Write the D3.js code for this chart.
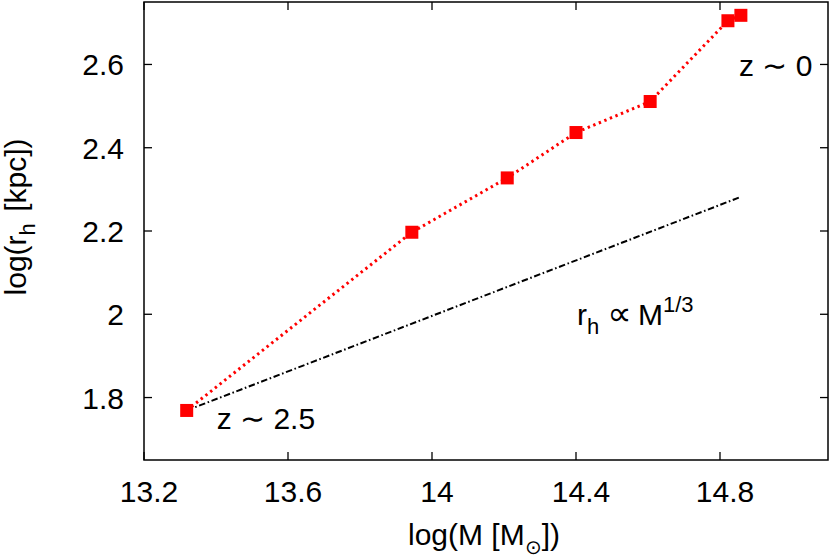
<!DOCTYPE html>
<html><head><meta charset="utf-8">
<script src="https://cdn.jsdelivr.net/npm/d3@7"></script>
<style>body{margin:0;background:#fff}svg{display:block}text{font-family:"Liberation Sans",Arial,Helvetica,sans-serif;fill:#000}</style>
</head><body><svg id="c" width="830" height="558"></svg>
<script>
// Data
const logM  = [13.3186, 13.944, 14.209, 14.400, 14.606, 14.822, 14.858];
const logRh = [1.769,   2.197,  2.3275, 2.4365, 2.511,  2.705,  2.718];
const scalingM  = [13.3186, 14.858];
const scalingRh = [1.769, 2.282];
const xTicks = [13.2, 13.6, 14.0, 14.4, 14.8];
const xTickLabels = ["13.2", "13.6", "14", "14.4", "14.8"];
const yTicks = [1.8, 2.0, 2.2, 2.4, 2.6];
const yTickLabels = ["1.8", "2", "2.2", "2.4", "2.6"];
const annotations = [
  {m: 14.853, r: 2.572, text: "z \u223C 0"},
  {m: 13.402, r: 1.724, text: "z \u223C 2.5"}
];

const W = 830, H = 558, m = {l: 144, t: 2, r: 2, b: 98};
const svg = d3.select("#c");
const x = d3.scaleLinear().domain([13.2, 15.1]).range([m.l, W - m.r]);
const y = d3.scaleLinear().domain([1.65, 2.75]).range([H - m.b, m.t]);
const fs = 30;

// ticks (inward, mirrored)
const tl = 8;
const g = svg.append("g").attr("stroke", "#000").attr("stroke-width", 1.3);
xTicks.forEach(t => {
  g.append("line").attr("x1", x(t)).attr("x2", x(t)).attr("y1", y.range()[0]).attr("y2", y.range()[0] - tl);
  g.append("line").attr("x1", x(t)).attr("x2", x(t)).attr("y1", y.range()[1]).attr("y2", y.range()[1] + tl);
});
yTicks.forEach(t => {
  g.append("line").attr("y1", y(t)).attr("y2", y(t)).attr("x1", x.range()[0]).attr("x2", x.range()[0] + tl);
  g.append("line").attr("y1", y(t)).attr("y2", y(t)).attr("x1", x.range()[1]).attr("x2", x.range()[1] - tl);
});
xTicks.forEach((t, i) => svg.append("text").attr("x", x(t) + 5).attr("y", 502)
  .attr("text-anchor", "middle").attr("font-size", fs).text(xTickLabels[i]));
yTicks.forEach((t, i) => svg.append("text").attr("x", 124).attr("y", y(t) + 11)
  .attr("text-anchor", "end").attr("font-size", fs).text(yTickLabels[i]));

// frame
svg.append("rect").attr("x", m.l).attr("y", m.t).attr("width", W - m.l - m.r).attr("height", H - m.t - m.b)
  .attr("fill", "none").attr("stroke", "#000").attr("stroke-width", 1.5);

// scaling line
const line = d3.line().x(d => x(d[0])).y(d => y(d[1]));
svg.append("path").datum(d3.zip(scalingM, scalingRh)).attr("d", line)
  .attr("fill", "none").attr("stroke", "#000").attr("stroke-width", 2)
  .attr("stroke-dasharray", "6.5,2.6,1.6,2.6");

// data line
const pts = d3.zip(logM, logRh);
svg.append("path").datum(pts).attr("d", line)
  .attr("fill", "none").attr("stroke", "#ff0000").attr("stroke-width", 3)
  .attr("stroke-dasharray", "2.4,3.6");
const s = 13;
svg.selectAll("rect.pt").data(pts).join("rect").attr("class", "pt")
  .attr("x", d => x(d[0]) - s / 2).attr("y", d => y(d[1]) - s / 2)
  .attr("width", s).attr("height", s).attr("fill", "#ff0000");

// annotations
annotations.forEach(a => svg.append("text").attr("x", x(a.m)).attr("y", y(a.r))
  .attr("font-size", fs).text(a.text));
const t3 = svg.append("text").attr("x", x(14.403)).attr("y", y(1.974)).attr("font-size", fs);
t3.append("tspan").text("r");
t3.append("tspan").attr("font-size", 22).attr("dy", 9).text("h");
t3.append("tspan").attr("dy", -9).attr("dx", 8).text("\u221D").style("font-family", "DejaVu Sans").attr("font-size", 34);
t3.append("tspan").attr("dx", -2).text(" M");
t3.append("tspan").attr("font-size", 22).attr("dy", -13).text("1/3");

// axis labels
const xl = svg.append("text").attr("x", 408).attr("y", 545).attr("font-size", fs);
xl.append("tspan").text("log(M [M");
xl.append("tspan").attr("font-size", 20).attr("dy", 9).text("\u2299");
xl.append("tspan").attr("dy", -9).text("])");
const yl = svg.append("text").attr("transform", "translate(26,217) rotate(-90)")
  .attr("text-anchor", "middle").attr("font-size", fs);
yl.append("tspan").text("log(r");
yl.append("tspan").attr("font-size", 22).attr("dy", 9).text("h");
yl.append("tspan").attr("dy", -9).attr("dx", 3).text(" [kpc])");
</script></body></html>
